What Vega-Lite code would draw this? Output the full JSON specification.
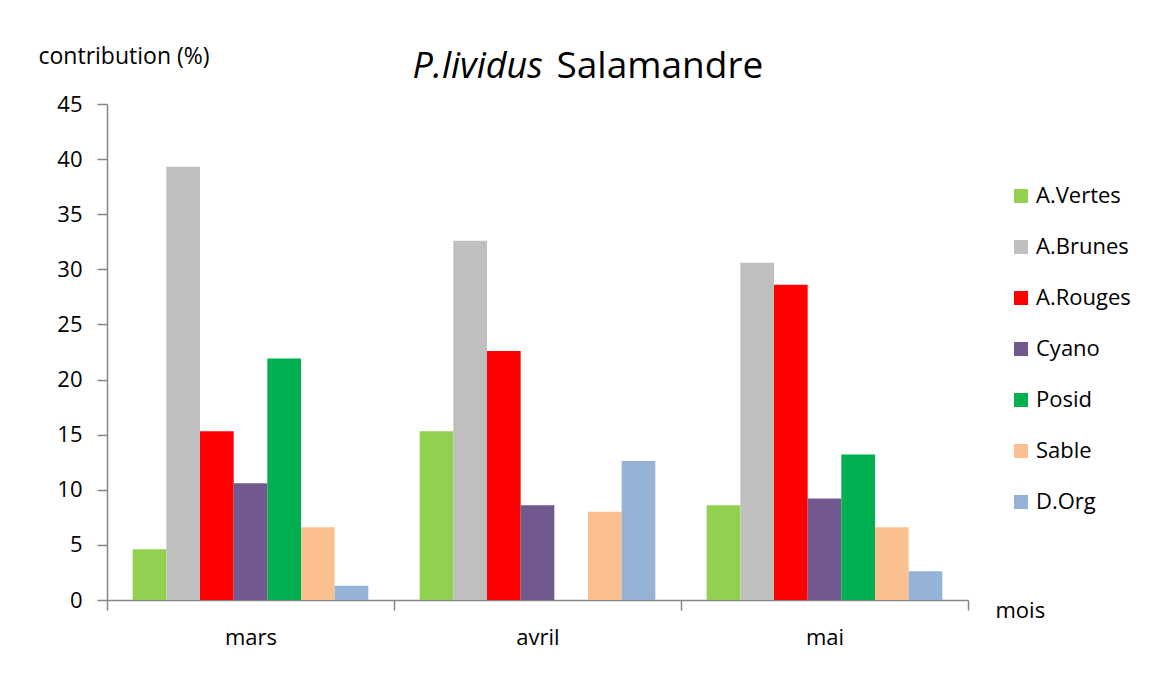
{
  "$schema": "https://vega.github.io/schema/vega-lite/v6.json",
  "width": 861,
  "height": 496,
  "autosize": {"type": "none"},
  "padding": {"left": 107, "top": 104, "right": 189, "bottom": 81},
  "background": "white",
  "config": {
    "view": {"stroke": null},
    "font": "Open Sans",
    "axis": {
      "labelColor": "#000000",
      "titleColor": "#000000",
      "titleFontWeight": "normal",
      "domainColor": "#868686",
      "tickColor": "#868686",
      "domainWidth": 1.5,
      "tickWidth": 1.5,
      "grid": false
    }
  },
  "data": {
    "values": [
      {"mois": "mars", "groupe": "A.Vertes", "valeur": 4.6},
      {"mois": "mars", "groupe": "A.Brunes", "valeur": 39.3},
      {"mois": "mars", "groupe": "A.Rouges", "valeur": 15.3},
      {"mois": "mars", "groupe": "Cyano", "valeur": 10.6},
      {"mois": "mars", "groupe": "Posid", "valeur": 21.9},
      {"mois": "mars", "groupe": "Sable", "valeur": 6.6},
      {"mois": "mars", "groupe": "D.Org", "valeur": 1.3},
      {"mois": "avril", "groupe": "A.Vertes", "valeur": 15.3},
      {"mois": "avril", "groupe": "A.Brunes", "valeur": 32.6},
      {"mois": "avril", "groupe": "A.Rouges", "valeur": 22.6},
      {"mois": "avril", "groupe": "Cyano", "valeur": 8.6},
      {"mois": "avril", "groupe": "Posid", "valeur": 0},
      {"mois": "avril", "groupe": "Sable", "valeur": 8.0},
      {"mois": "avril", "groupe": "D.Org", "valeur": 12.6},
      {"mois": "mai", "groupe": "A.Vertes", "valeur": 8.6},
      {"mois": "mai", "groupe": "A.Brunes", "valeur": 30.6},
      {"mois": "mai", "groupe": "A.Rouges", "valeur": 28.6},
      {"mois": "mai", "groupe": "Cyano", "valeur": 9.2},
      {"mois": "mai", "groupe": "Posid", "valeur": 13.2},
      {"mois": "mai", "groupe": "Sable", "valeur": 6.6},
      {"mois": "mai", "groupe": "D.Org", "valeur": 2.6}
    ]
  },
  "layer": [
    {
      "mark": {"type": "bar"},
      "encoding": {
        "x": {
          "field": "mois",
          "type": "nominal",
          "sort": ["mars", "avril", "mai"],
          "scale": {"paddingInner": 0, "paddingOuter": 0},
          "axis": {
            "orient": "bottom",
            "labelAngle": 0,
            "labelFontSize": 22,
            "labelPadding": 17,
            "tickSize": 10,
            "tickBand": "extent",
            "title": "mois",
            "titleFontSize": 22,
            "titleAlign": "left",
            "titleBaseline": "alphabetic",
            "titleX": 888,
            "titleY": 17
          }
        },
        "xOffset": {
          "field": "groupe",
          "type": "nominal",
          "sort": ["A.Vertes", "A.Brunes", "A.Rouges", "Cyano", "Posid", "Sable", "D.Org"],
          "scale": {"paddingInner": 0, "paddingOuter": 0.763}
        },
        "y": {
          "field": "valeur",
          "type": "quantitative",
          "scale": {"domain": [0, 45], "nice": false},
          "axis": {
            "orient": "left",
            "values": [0, 5, 10, 15, 20, 25, 30, 35, 40, 45],
            "labelFontSize": 22,
            "labelPadding": 15,
            "tickSize": 10,
            "title": "contribution (%)",
            "titleFontSize": 23,
            "titleAngle": 0,
            "titleAlign": "left",
            "titleBaseline": "alphabetic",
            "titleX": -69,
            "titleY": -41
          }
        },
        "color": {
          "field": "groupe",
          "type": "nominal",
          "sort": ["A.Vertes", "A.Brunes", "A.Rouges", "Cyano", "Posid", "Sable", "D.Org"],
          "scale": {
            "domain": ["A.Vertes", "A.Brunes", "A.Rouges", "Cyano", "Posid", "Sable", "D.Org"],
            "range": ["#92D050", "#BFBFBF", "#FF0000", "#71588F", "#00B050", "#FAC090", "#95B3D7"]
          },
          "legend": {
            "orient": "none",
            "legendX": 903,
            "legendY": 81,
            "title": null,
            "padding": 0,
            "symbolType": "square",
            "symbolSize": 196,
            "symbolStrokeWidth": 0,
            "labelFontSize": 22,
            "labelColor": "#000000",
            "labelOffset": 4,
            "rowPadding": 29
          }
        }
      }
    },
    {
      "mark": {"type": "bar", "opacity": 0},
      "encoding": {
        "x": {
          "field": "mois",
          "type": "nominal",
          "sort": ["mars", "avril", "mai"],
          "axis": {
            "orient": "top",
            "domain": false,
            "ticks": false,
            "labels": false,
            "title": "P.lividus",
            "titleFontSize": 36,
            "titleFontStyle": "italic",
            "titleAlign": "left",
            "titleBaseline": "alphabetic",
            "titleX": 305,
            "titleY": -27
          }
        },
        "y": {
          "field": "valeur",
          "type": "quantitative",
          "axis": {
            "orient": "right",
            "domain": false,
            "ticks": false,
            "labels": false,
            "title": "Salamandre",
            "titleFontSize": 37,
            "titleAngle": 0,
            "titleAlign": "left",
            "titleBaseline": "alphabetic",
            "titleX": -412,
            "titleY": -27
          }
        }
      }
    }
  ],
  "resolve": {"axis": {"x": "independent", "y": "independent"}}
}
